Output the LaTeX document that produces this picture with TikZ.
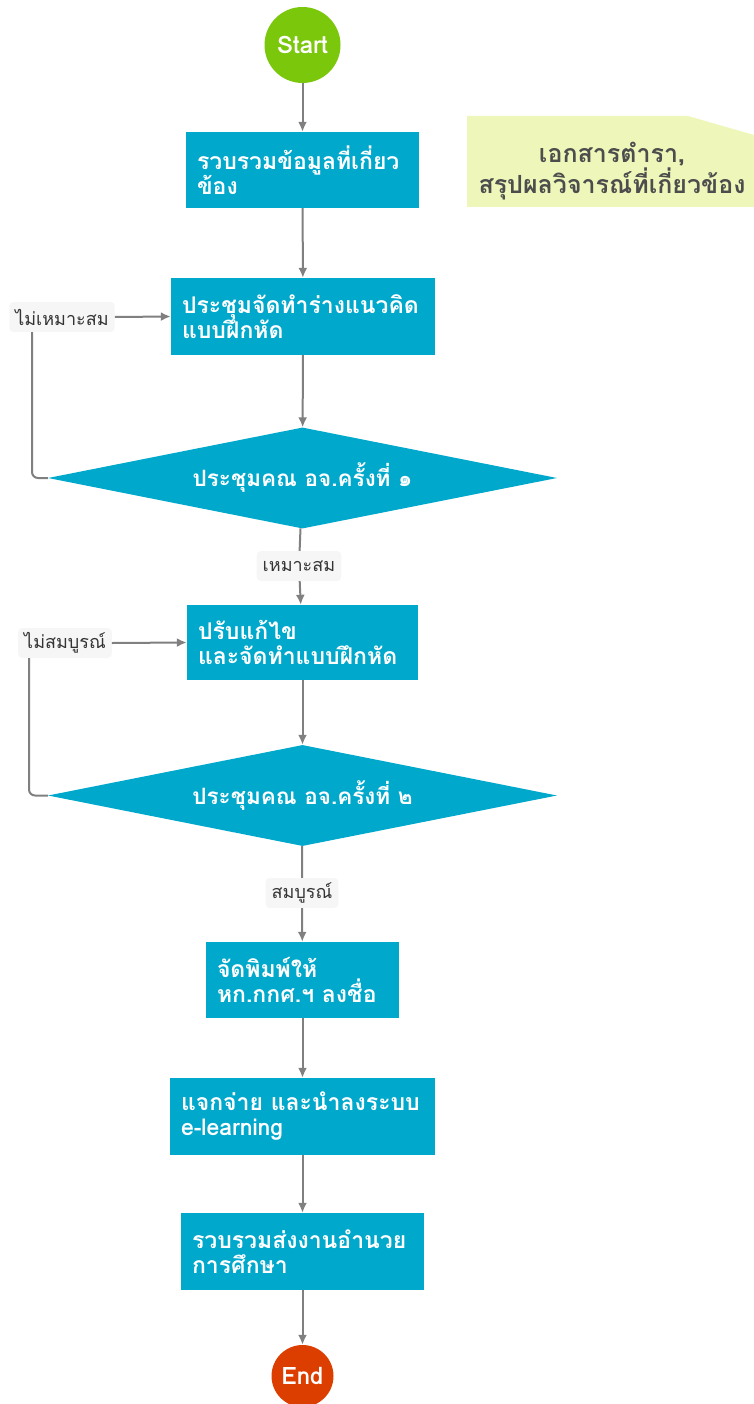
\documentclass[tikz,border=0pt]{standalone}
\usepackage{fontspec}
\newfontfamily\thaifont[Script=Thai]{Loma}
\usetikzlibrary{shapes.geometric,arrows.meta}
\definecolor{startgreen}{RGB}{122,199,12}
\definecolor{endred}{RGB}{220,62,0}
\definecolor{boxblue}{RGB}{0,168,204}
\definecolor{notefill}{RGB}{238,247,185}
\definecolor{notetext}{RGB}{77,77,77}
\definecolor{linegray}{RGB}{128,128,128}
\definecolor{labelbg}{RGB}{246,246,246}
\tikzset{
    procbox/.style={fill=boxblue, text=white, align=left, inner xsep=11pt,
        font=\thaifont\bfseries\fontsize{23}{25}\selectfont},
    decision/.style={diamond, shape aspect=5, fill=boxblue, text=white, inner sep=0pt,
        minimum width=509pt, minimum height=101pt,
        font=\thaifont\bfseries\fontsize{22.5}{25}\selectfont},
    terminal/.style={circle, inner sep=0pt, text=white,
        font=\thaifont\bfseries\fontsize{24}{26}\selectfont},
    answer/.style={fill=labelbg, rounded corners=4pt, text=black!80,
        minimum height=30pt, inner xsep=6pt,
        font=\thaifont\fontsize{18}{20}\selectfont},
    flowline/.style={draw=linegray, line width=2pt},
    flowarrow/.style={flowline, -{Latex[length=10pt,width=9pt]}}
}
\begin{document}
\begin{tikzpicture}[x=1pt,y=-1pt]
    \useasboundingbox (0,0) rectangle (754,1404);

    % note on the right
    \fill[notefill] (467,116) -- (688,116) -- (754,135) -- (754,207) -- (467,207) -- cycle;
    \node[align=center, text=notetext, font=\thaifont\bfseries\fontsize{25}{27}\selectfont]
        (note) at (612,171) {เอกสารตำรา,\\สรุปผลวิจารณ์ที่เกี่ยวข้อง};

    % main flow
    \node[terminal, fill=startgreen, minimum size=76pt] (start) at (302.5,45) {Start};
    \node[procbox, minimum width=233pt, minimum height=76pt, text width=211pt]
        (collect) at (302.5,170) {รวบรวมข้อมูลที่เกี่ยว\\ข้อง};
    \node[procbox, minimum width=264pt, minimum height=77pt, text width=242pt]
        (draft) at (303,316.5) {ประชุมจัดทำร่างแนวคิด\\แบบฝึกหัด};
    \node[decision] (meet1) at (302.5,478) {ประชุมคณ อจ.ครั้งที่ ๑};
    \node[answer] (fit) at (299,566) {เหมาะสม};
    \node[procbox, minimum width=231pt, minimum height=75pt, text width=209pt]
        (revise) at (302.5,642.5) {ปรับแก้ไข\\และจัดทำแบบฝึกหัด};
    \node[decision] (meet2) at (302.5,795.5) {ประชุมคณ อจ.ครั้งที่ ๒};
    \node[answer] (done) at (302,893) {สมบูรณ์};
    \node[procbox, minimum width=193pt, minimum height=76pt, text width=171pt]
        (print) at (302.5,980) {จัดพิมพ์ให้\\หก.กกศ.ฯ ลงชื่อ};
    \node[procbox, minimum width=265pt, minimum height=77pt, text width=243pt]
        (share) at (302.5,1116.5) {แจกจ่าย และนำลงระบบ\\e-learning};
    \node[procbox, minimum width=243pt, minimum height=77pt, text width=221pt]
        (send) at (302.5,1251.5) {รวบรวมส่งงานอำนวย\\การศึกษา};
    \node[terminal, fill=endred, minimum size=62pt] (end) at (302.5,1376) {End};

    % answers that go back
    \node[answer] (notfit) at (62,317) {ไม่เหมาะสม};
    \node[answer] (notdone) at (65,643) {ไม่สมบูรณ์};
    \coordinate (back1) at (32,332);
    \coordinate (back2) at (29,658);

    % connectors
    \draw[flowarrow] (start) -- (collect);
    \draw[flowarrow] (collect) -- (draft);
    \draw[flowarrow] (draft) -- (meet1);
    \draw[flowline] (meet1) -- (fit);
    \draw[flowarrow] (fit) -- (revise);
    \draw[flowarrow] (revise) -- (meet2);
    \draw[flowline] (meet2) -- (done);
    \draw[flowarrow] (done) -- (print);
    \draw[flowarrow] (print) -- (share);
    \draw[flowarrow] (share) -- (send);
    \draw[flowarrow] (send) -- (end);

    \draw[flowline, rounded corners=6pt] (meet1.west) -| (back1);
    \draw[flowarrow] (notfit.east) -- (draft.west);
    \draw[flowline, rounded corners=6pt] (meet2.west) -| (back2);
    \draw[flowarrow] (notdone.east) -- (revise.west);
\end{tikzpicture}
\end{document}
